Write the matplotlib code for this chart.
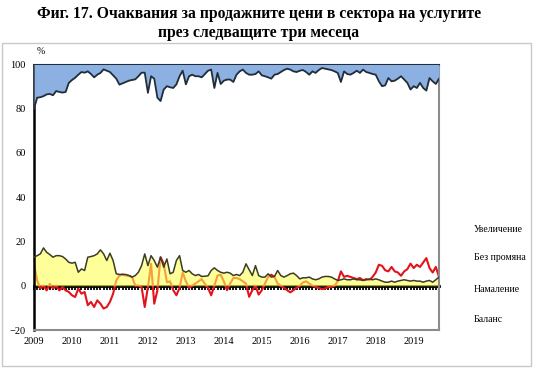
import numpy as np
import matplotlib.pyplot as plt
from matplotlib.patches import Rectangle

# Месечни данни, януари 2009 - септември 2019 (%)
start_year = 2009
increase = [20, 15, 14.8, 14.3, 13.5, 13.3, 13.9, 12, 12.4, 12.7, 12.4, 8.3,
            7, 6, 4.6, 3.4, 3.7, 3.1, 4.3, 5.8, 4.6, 3.8, 2.2, 2.8,
            3.4, 4.9, 6.4, 9.1, 8.5, 7.9, 7.3, 7, 6.7, 5.3, 3.7, 3.7,
            12.8, 5.3, 6.4, 15, 16.5, 11.3, 9.8, 10.3, 10.6, 9, 5.3, 2.8,
            9, 5.3, 4.6, 5.3, 5.3, 5.8, 4.3, 2.8, 2.3, 10.6, 3.8, 8.8,
            7.3, 6.8, 6.8, 7.9, 4.6, 3.1, 2.3, 3.8, 4.6, 4.6, 4.3, 3.1,
            4.9, 5.3, 5.8, 6.4, 4.6, 4.3, 3.4, 2.5, 1.9, 2.3, 3.1, 3.4,
            2.8, 2.5, 3.4, 4.6, 3.1, 3.8, 2.5, 1.6, 1.9, 2.2, 2.5, 3.1,
            3.8, 7.9, 3.1, 4.3, 4.6, 3.8, 2.8, 3.8, 2.3, 3.4, 3.8, 4.3,
            4.6, 7.6, 9.8, 9.4, 6.1, 7.6, 7.3, 6.4, 5.3, 6.8, 8.3, 11.3,
            9.8, 10.6, 8.3, 10.6, 11.8, 6.1, 7.6, 8.8, 6.4]
decrease = [12.9, 13.6, 14.4, 17.1, 15.1, 14.1, 12.9, 13.6, 13.6, 13.2, 12.1, 10.6,
            10.2, 10.6, 6.1, 7.6, 6.9, 12.9, 13.2, 13.6, 14.4, 16.2, 14.4, 11.4,
            14.7, 11.4, 5.4, 5.1, 5.1, 5.1, 4.6, 3.9, 4.6, 6.1, 9.1, 14.4,
            9.1, 13.6, 11.4, 8.4, 12.9, 8.4, 12.1, 5.4, 6.1, 11.4, 13.6, 6.9,
            6.1, 6.9, 5.4, 4.6, 5.1, 4.2, 4.3, 4.5, 6.9, 8.1, 6.9, 6.1,
            5.7, 6.1, 5.7, 4.6, 5.1, 4.6, 6.1, 9.9, 7.2, 4.6, 9.1, 4.6,
            3.9, 3.9, 5.4, 3.9, 4.2, 6.9, 4.6, 3.9, 4.6, 5.4, 5.7, 4.6,
            3.1, 3.6, 3.6, 3.9, 3.1, 2.7, 3.1, 3.9, 4.2, 4.2, 3.9, 3.1,
            2.4, 2.7, 3.1, 2.7, 2.7, 3.1, 2.7, 2.7, 2.4, 2.7, 3.1, 2.7,
            3.1, 2.7, 2.1, 1.6, 1.6, 2.1, 1.6, 2.1, 2.4, 2.7, 2.4, 2.1,
            2.4, 2.1, 2.1, 1.6, 2.1, 2.4, 1.6, 2.7, 3.9]
balance = [9.9, 2.4, -1.3, 0.1, -2.1, 0.9, -1.3, 0.1, -2.1, -0.6, -2.1, -2.8,
           -4.3, -5.1, -1.3, -3.6, -2.8, -8.8, -7.3, -9.6, -6.6, -8.1, -10.3, -9.6,
           -7.3, -3.6, 2.4, 4.6, 5.1, 4.6, 4.5, 3.9, 0.1, 0.1, -0.6, -9.6,
           -0.6, 9.9, -8.1, -2.1, 12.9, 9.9, 1.6, 2, -2, -4.3, -1, 6,
           2, -1, 0, 1, 2, 3, 0.9, -1, -4.3, 0, 4.6, 5,
           2, -2, 1, 3.5, 3.5, 3, 2, 1, -5, -2, 0, -4,
           -2, 1, 4, 5, 4, 1, 0, -1, -2, -3, -2, -1,
           0, 1.5, 2, 1, 0, -0.5, -1, -1.5, -1.3, -0.5, -0.5, 0,
           2, 6.5, 4, 4.5, 4, 3.5, 3, 3.5, 2.5, 3, 2.5, 4,
           6, 9.5, 9, 7, 6.5, 8.5, 6.5, 6, 4.5, 6.5, 7.5, 10,
           8, 9.5, 8.5, 10.5, 12.5, 8, 6, 8.5, 4]
years = list(range(2009, 2020))
series_names = ['Увеличение', 'Без промяна', 'Намаление', 'Баланс']

inc = np.array(increase)
dec = np.array(decrease)
bal = np.array(balance)
x = start_year + np.arange(len(inc)) / 12

plt.rcParams['font.family'] = ['Liberation Serif', 'DejaVu Serif']

fig = plt.figure(figsize=(5.39, 3.70), dpi=100)
fig.patches.append(Rectangle((2 / 539, 1 - 366 / 370), 529 / 539, 323 / 370,
                             transform=fig.transFigure, fill=False,
                             edgecolor='#c8c8c8', linewidth=1))
fig.text(259 / 539, 1 - 14 / 370, 'Фиг. 17. Очаквания за продажните цени в сектора на услугите',
         ha='center', va='center', fontsize=11.3, fontweight='bold')
fig.text(259 / 539, 1 - 33 / 370, 'през следващите три месеца',
         ha='center', va='center', fontsize=11.3, fontweight='bold')

ax = fig.add_axes([34 / 539, 1 - 330 / 370, 405 / 539, 265.5 / 370])

# баланс под жълтата площ - вътре в нея изглежда оранжев
ax.plot(x, bal, color='#e3131b', linewidth=1.5, zorder=1)
ax.fill_between(x, 0, dec, color='#ffff55', alpha=0.6, linewidth=0, zorder=2)
ax.plot(x, dec, color='#3c3c24', linewidth=1.1, zorder=3)
ax.fill_between(x, 100 - inc, 100, color='#8cb0e2', linewidth=0, zorder=3)
ax.plot(x, 100 - inc, color='#222d3a', linewidth=1.3, zorder=4)

ax.set_xlim(x[0], x[-1])
ax.set_ylim(-20, 100)
ax.set_yticks(np.arange(-20, 101, 20))
ax.tick_params(axis='y', length=0, pad=6, labelsize=7.5)
ax.set_xticks(years)
ax.set_xticklabels([str(y) for y in years])
ax.tick_params(axis='x', length=0, pad=5, labelsize=7.5)

for side in ['top', 'right', 'bottom']:
    ax.spines[side].set_color('#8c8c8c')
    ax.spines[side].set_linewidth(1.5)
ax.spines['top'].set_color('#222d3a')
ax.spines['left'].set_color('black')
ax.spines['left'].set_linewidth(1.8)

# оста при нула с месечни деления
zero_ax = ax.secondary_xaxis(20 / 120)
zero_ax.spines['bottom'].set_linewidth(2)
zero_ax.spines['bottom'].set_color('black')
zero_ax.set_xticks(x)
zero_ax.tick_params(axis='x', length=3, width=1.3, direction='out', labelbottom=False)

fig.text(37 / 539, 1 - 52 / 370, '%', fontsize=7, ha='left', va='center')

label_y = [230, 258, 290, 320]
for name, py in zip(series_names, label_y):
    fig.text(474 / 539, 1 - py / 370, name, fontsize=7, ha='left', va='center')

fig.savefig('out.png', dpi=100)
